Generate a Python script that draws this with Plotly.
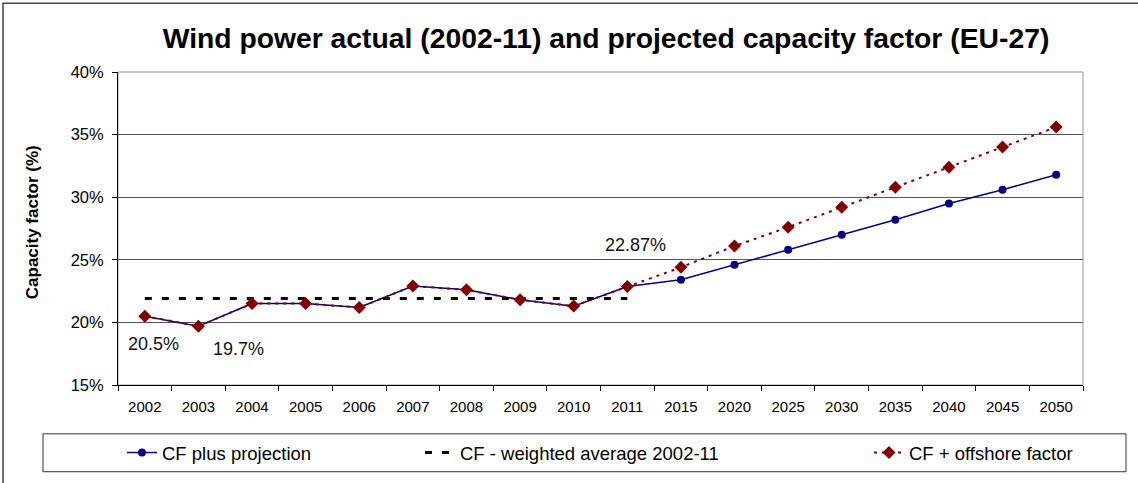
import plotly.graph_objects as go

years = ["2002", "2003", "2004", "2005", "2006", "2007", "2008", "2009", "2010", "2011",
         "2015", "2020", "2025", "2030", "2035", "2040", "2045", "2050"]
cf_projection = [20.5, 19.7, 21.5, 21.5, 21.2, 22.9, 22.6, 21.8, 21.3, 22.87,
                 23.4, 24.6, 25.8, 27.0, 28.2, 29.5, 30.6, 31.8]
cf_offshore = [20.5, 19.7, 21.5, 21.5, 21.2, 22.9, 22.6, 21.8, 21.3, 22.87,
               24.4, 26.1, 27.6, 29.2, 30.8, 32.4, 34.0, 35.6]
avg_years = years[:10]
avg_value = [21.9] * 10
y_ticks = [15, 20, 25, 30, 35, 40]

label_points = [("2002", 20.5, "20.5%", 9, -28), ("2003", 19.7, "19.7%", 40, -23),
                ("2011", 22.87, "22.87%", 8, 41)]

FONT = "Arial, Liberation Sans, sans-serif"
W, H = 1138, 483
L, R, T, B = 118, 55, 72, 97
pw, ph = W - L - R, H - T - B

def px_x(x):
    return (x - L) / pw

def px_y(y):
    return (H - B - y) / ph

fig = go.Figure()
fig.add_trace(go.Scatter(
    x=years, y=cf_projection, mode="lines+markers", name="CF plus projection",
    line=dict(color="#000080", width=1.5),
    marker=dict(symbol="circle", size=8, color="#000080"),
    legend="legend"))
fig.add_trace(go.Scatter(
    x=avg_years, y=avg_value, mode="lines", name="CF - weighted average 2002-11",
    line=dict(color="#000000", width=3, dash="7px,10px"),
    legend="legend2"))
fig.add_trace(go.Scatter(
    x=years, y=cf_offshore, mode="lines+markers", name="CF + offshore factor",
    line=dict(color="#800000", width=2, dash="3px,5px"),
    marker=dict(symbol="diamond", size=10, color="#800000"),
    legend="legend3"))

for xv, yv, txt, xs, ys in label_points:
    fig.add_annotation(x=years.index(xv), y=yv, text=txt, showarrow=False, xshift=xs, yshift=ys,
                       font=dict(family=FONT, size=18, color="#111111"))

fig.add_annotation(x=px_x(32), y=0.52, xref="paper", yref="paper", text="<b>Capacity factor (%)</b>",
                   xanchor="center", yanchor="middle",
                   textangle=-90, showarrow=False, font=dict(family=FONT, size=17, color="#000000"))

# plot-area frame
fig.add_shape(type="rect", xref="paper", yref="paper", x0=0, x1=1, y0=0, y1=1,
              line=dict(color="#999999", width=1), layer="below")
# legend box
fig.add_shape(type="rect", xref="paper", yref="paper", x0=px_x(43), x1=px_x(1126),
              y0=px_y(473), y1=px_y(435), line=dict(color="#333333", width=1))
# outer chart border
fig.add_shape(type="rect", xref="paper", yref="paper", x0=px_x(3), x1=px_x(1145),
              y0=px_y(495), y1=px_y(3), line=dict(color="#444444", width=1.5))

leg_common = dict(orientation="h", yanchor="middle", xanchor="left", y=px_y(453),
                  bgcolor="rgba(0,0,0,0)", borderwidth=0,
                  font=dict(family=FONT, size=18.5, color="#000000"))

fig.update_layout(
    width=W, height=H,
    margin=dict(l=L, r=R, t=T, b=B),
    paper_bgcolor="white", plot_bgcolor="white",
    showlegend=True,
    title=dict(text="<b>Wind power actual (2002-11) and projected capacity factor (EU-27)</b>",
               x=606 / W, xanchor="center", y=1 - 38 / H, yanchor="middle",
               font=dict(family=FONT, size=28.3, color="#000000")),
    legend=dict(x=px_x(122), **leg_common),
    legend2=dict(x=px_x(420), **leg_common),
    legend3=dict(x=px_x(869), **leg_common),
    xaxis=dict(type="category", categoryorder="array", categoryarray=years,
               range=[-0.5, len(years) - 0.5],
               showline=True, linecolor="#000000", linewidth=1,
               ticks="outside", tickson="boundaries", ticklen=5, tickcolor="#000000",
               ticklabelstandoff=8,
               showgrid=False, zeroline=False, tickangle=0,
               tickfont=dict(family=FONT, size=15, color="#000000")),
    yaxis=dict(range=[15, 40], tickmode="array", tickvals=y_ticks,
               ticktext=[f"{v}%" for v in y_ticks],
               showline=True, linecolor="#000000", linewidth=1,
               ticks="outside", ticklen=5, tickcolor="#000000",
               ticklabelstandoff=5,
               showgrid=True, gridcolor="#555555", gridwidth=1, zeroline=False,
               tickfont=dict(family=FONT, size=16.5, color="#000000")),
)

fig.write_html("out.html", config={"displayModeBar": False},
               post_script="document.body.style.margin='0';")
